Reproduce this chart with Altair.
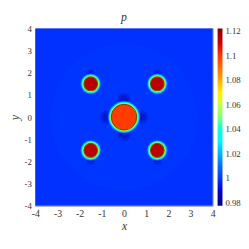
import altair as alt
import pandas as pd
import numpy as np

# ---- data ----
# bubble centres, edge radii and interior pressure
bub_x = [0.0, -1.5, 1.5, -1.5, 1.5]
bub_y = [0.0, 1.5, 1.5, -1.5, -1.5]
bub_r = [0.57, 0.31, 0.31, 0.31, 0.31]
bub_p = [1.100, 1.114, 1.114, 1.114, 1.114]

# interface layers outside the bubble edge: extra radius and pressure
ring_dr = [0.16, 0.12, 0.085, 0.055, 0.03]
ring_p = [1.008, 1.024, 1.042, 1.058, 1.07]

# low-pressure shadows around bubbles (outer, inner)
sh_x = [0.0, 0.0, -0.78, 0.78, -1.5, 1.5, -1.5, 1.5]
sh_y = [0.78, -0.78, 0.0, 0.0, 1.95, 1.95, -1.95, -1.95]
sh_r = [0.3, 0.3, 0.3, 0.3, 0.2, 0.2, 0.2, 0.2]
sh_r_in = [0.17, 0.17, 0.17, 0.17, 0.11, 0.11, 0.11, 0.11]
sh_p = [0.982, 0.982, 0.982, 0.982, 0.986, 0.986, 0.986, 0.986]

# background
bg_p = 0.999
halo_r = [3.3]
halo_p = [1.002]

x_ticks = [-4, -3, -2, -1, 0, 1, 2, 3, 4]
y_ticks = [-4, -3, -2, -1, 0, 1, 2, 3, 4]
cbar_ticks = [0.98, 1, 1.02, 1.04, 1.06, 1.08, 1.1, 1.12]

# ---- scales ----
W = 182
unit = W / 8.0
p_lo, p_hi = 0.9774, 1.1226
jet = ["#00007F", "#0000FF", "#007FFF", "#00FFFF", "#7FFF7F",
       "#FFFF00", "#FF7F00", "#FF0000", "#7F0000"]
p_dom = list(np.linspace(p_lo, p_hi, len(jet)))
color_scale = alt.Scale(domain=p_dom, range=jet, clamp=True)
size_scale = alt.Scale(type="linear", domain=[0, 1], range=[0, 4 * unit * unit], zero=True)
xs = alt.Scale(domain=[-4, 4], nice=False, zero=False)
ys = alt.Scale(domain=[-4, 4], nice=False, zero=False)

font = "Liberation Serif"

bg = pd.DataFrame({"x": [-4], "x2": [4], "y": [-4], "y2": [4], "p": [bg_p]})

rows = []
for lvl, (dr, rp) in enumerate(zip(ring_dr, ring_p)):
    for cx, cy, r in zip(bub_x, bub_y, bub_r):
        rows.append({"x": cx, "y": cy, "r2": (r + dr) ** 2, "p": rp, "lvl": lvl})
for cx, cy, r, bp in zip(bub_x, bub_y, bub_r, bub_p):
    rows.append({"x": cx, "y": cy, "r2": (r - 0.015) ** 2, "p": bp, "lvl": 99})
rings = pd.DataFrame(rows).sort_values("lvl")

edges = pd.DataFrame({"x": bub_x, "y": bub_y, "r2": [r ** 2 for r in bub_r]})
shadows = pd.DataFrame({"x": sh_x * 2, "y": sh_y * 2,
                        "r2": [r ** 2 for r in sh_r] + [r ** 2 for r in sh_r_in],
                        "p": sh_p * 2})
halo = pd.DataFrame({"x": [0.0], "y": [0.0], "r2": [r ** 2 for r in halo_r], "p": halo_p})

lab = "'' + datum.value"
xaxis = alt.Axis(values=x_ticks, title="x", labelPadding=3, titlePadding=2,
                 labelOverlap=False, labelFlush=False, minExtent=0, labelExpr=lab)
yaxis = alt.Axis(values=y_ticks, title="y", labelPadding=4, titlePadding=3,
                 labelOverlap=False, labelFlush=False, labelSeparation=0,
                 labelBound=False, tickCount=9, labelFontSize=9, minExtent=0,
                 labelExpr=lab)

legend = alt.Legend(type="gradient", values=cbar_ticks, format=".3~g", title=None,
                    gradientLength=W, gradientThickness=5, offset=5, orient="right",
                    gradientStrokeWidth=0, labelOffset=3, padding=0)

X = alt.X("x:Q", scale=xs, axis=xaxis)
Y = alt.Y("y:Q", scale=ys, axis=yaxis)

base_bg = alt.Chart(bg).mark_rect().encode(
    x=X, x2="x2", y=Y, y2="y2",
    color=alt.Color("p:Q", scale=color_scale, legend=legend),
)

def circ(df, fo=1.0):
    return alt.Chart(df).mark_circle(fillOpacity=fo, opacity=1).encode(
        x=X, y=Y,
        size=alt.Size("r2:Q", scale=size_scale, legend=None),
        color=alt.Color("p:Q", scale=color_scale, legend=legend),
    )

halo_layer = circ(halo, fo=0.18)
shadow_layer = circ(shadows, fo=0.3)
ring_layer = circ(rings)
edge_layer = alt.Chart(edges).mark_point(shape="circle", filled=False,
                                         stroke="#2a0800", strokeWidth=1.2, strokeOpacity=0.9).encode(
    x=X, y=Y,
    size=alt.Size("r2:Q", scale=size_scale, legend=None),
)

chart = alt.layer(base_bg, halo_layer, shadow_layer, ring_layer, edge_layer).properties(
    width=W, height=W,
    padding=0,
    title=alt.Title("p", font=font, fontStyle="italic", fontWeight="normal",
                    fontSize=12, color="#333", offset=1),
).configure(font=font).configure_view(stroke="#9a9ac8", strokeWidth=1).configure_axis(
    labelFont=font, labelFontSize=10, labelColor="#333", labelOverlap=False,
    titleFont=font, titleFontStyle="italic", titleFontWeight="normal",
    titleFontSize=12, titleColor="#333", grid=False, ticks=False, domain=False,
    minExtent=0,
).configure_axisY(labelOverlap=False).configure_legend(
    labelFont=font, labelFontSize=9, labelColor="#333", labelOverlap=False)

chart.save("out.html", embed_options={"renderer": "svg", "actions": False})
